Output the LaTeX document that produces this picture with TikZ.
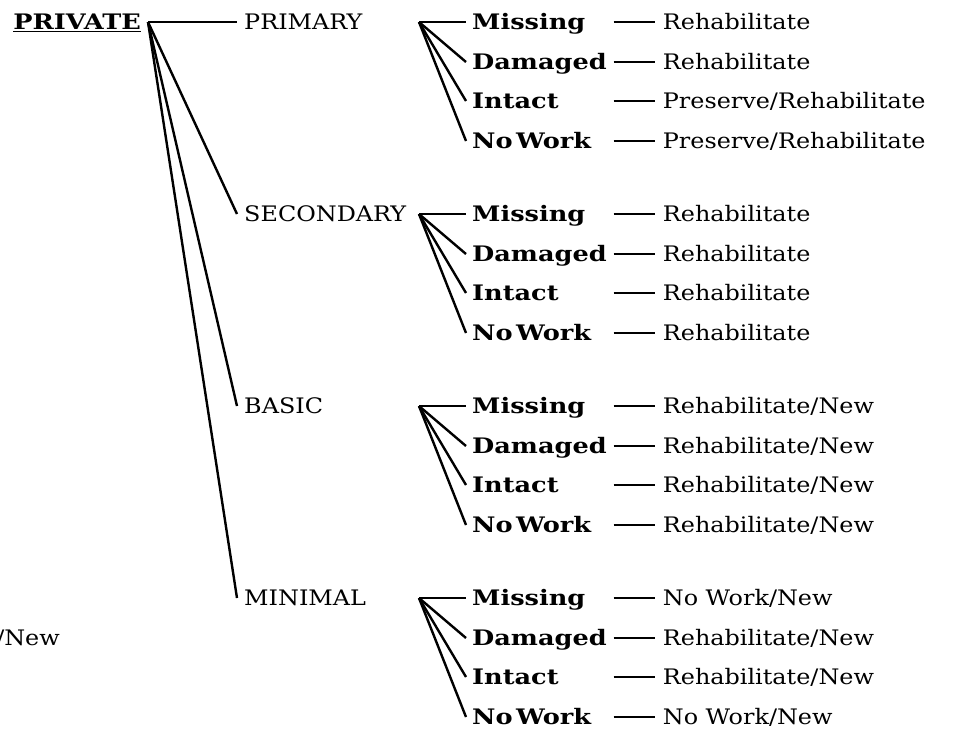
\documentclass[tikz,border=0pt]{standalone}
\usepackage{fontspec}
\setmainfont{DejaVu Serif}[FakeStretch=1.12, BoldFeatures={FakeStretch=1.2}]
\usetikzlibrary{positioning}

\begin{document}
\begin{tikzpicture}[x=0.75pt, y=-0.75pt, line width=1.8pt,
    every node/.style={font=\fontsize{16}{19}\selectfont, inner ysep=0pt, text height=11.7pt, text depth=0pt},
    level/.style={anchor=west, inner xsep=4.5pt},
    state/.style={anchor=west, inner xsep=3.75pt, text width=101.5pt, align=left, font=\fontsize{16}{19}\selectfont\bfseries},
    action/.style={anchor=west, inner xsep=5pt}]
  \useasboundingbox (0,0) rectangle (958,729);
  \node[anchor=east, inner xsep=4.5pt, font=\fontsize{16}{19}\selectfont\bfseries] (private) at (148,22) {\underline{PRIVATE}};
  \node[anchor=east, inner sep=0pt] (leftover) at (61,638) {/New};
  \foreach \blk/\txt/\yy/\ra/\rb/\rc/\rd in {
      primary/PRIMARY/22/Rehabilitate/Rehabilitate/{Preserve/Rehabilitate}/{Preserve/Rehabilitate},
      secondary/SECONDARY/214/Rehabilitate/Rehabilitate/Rehabilitate/Rehabilitate,
      basic/BASIC/406/{Rehabilitate/New}/{Rehabilitate/New}/{Rehabilitate/New}/{Rehabilitate/New},
      minimal/MINIMAL/598/{No Work/New}/{Rehabilitate/New}/{Rehabilitate/New}/{No Work/New}} {
    \node[level] (\blk) at (237,\yy) {\txt};
    \draw (private.east) -- (\blk.west);
    \coordinate (\blk-fan) at (419,\yy);
    \foreach \st/\stt/\dy/\res in {mis/Missing/0/\ra, dam/Damaged/40/\rb, int/Intact/79/\rc, now/{No\,Work}/119/\rd} {
      \node[state] (\blk-\st) at (466,\yy+\dy) {\stt};
      \node[action] (\blk-\st-do) at (655,\yy+\dy) {\res};
      \draw (\blk-fan) -- (\blk-\st.west);
      \draw (\blk-\st.east) -- (\blk-\st-do.west);
    }
  }
\end{tikzpicture}
\end{document}
